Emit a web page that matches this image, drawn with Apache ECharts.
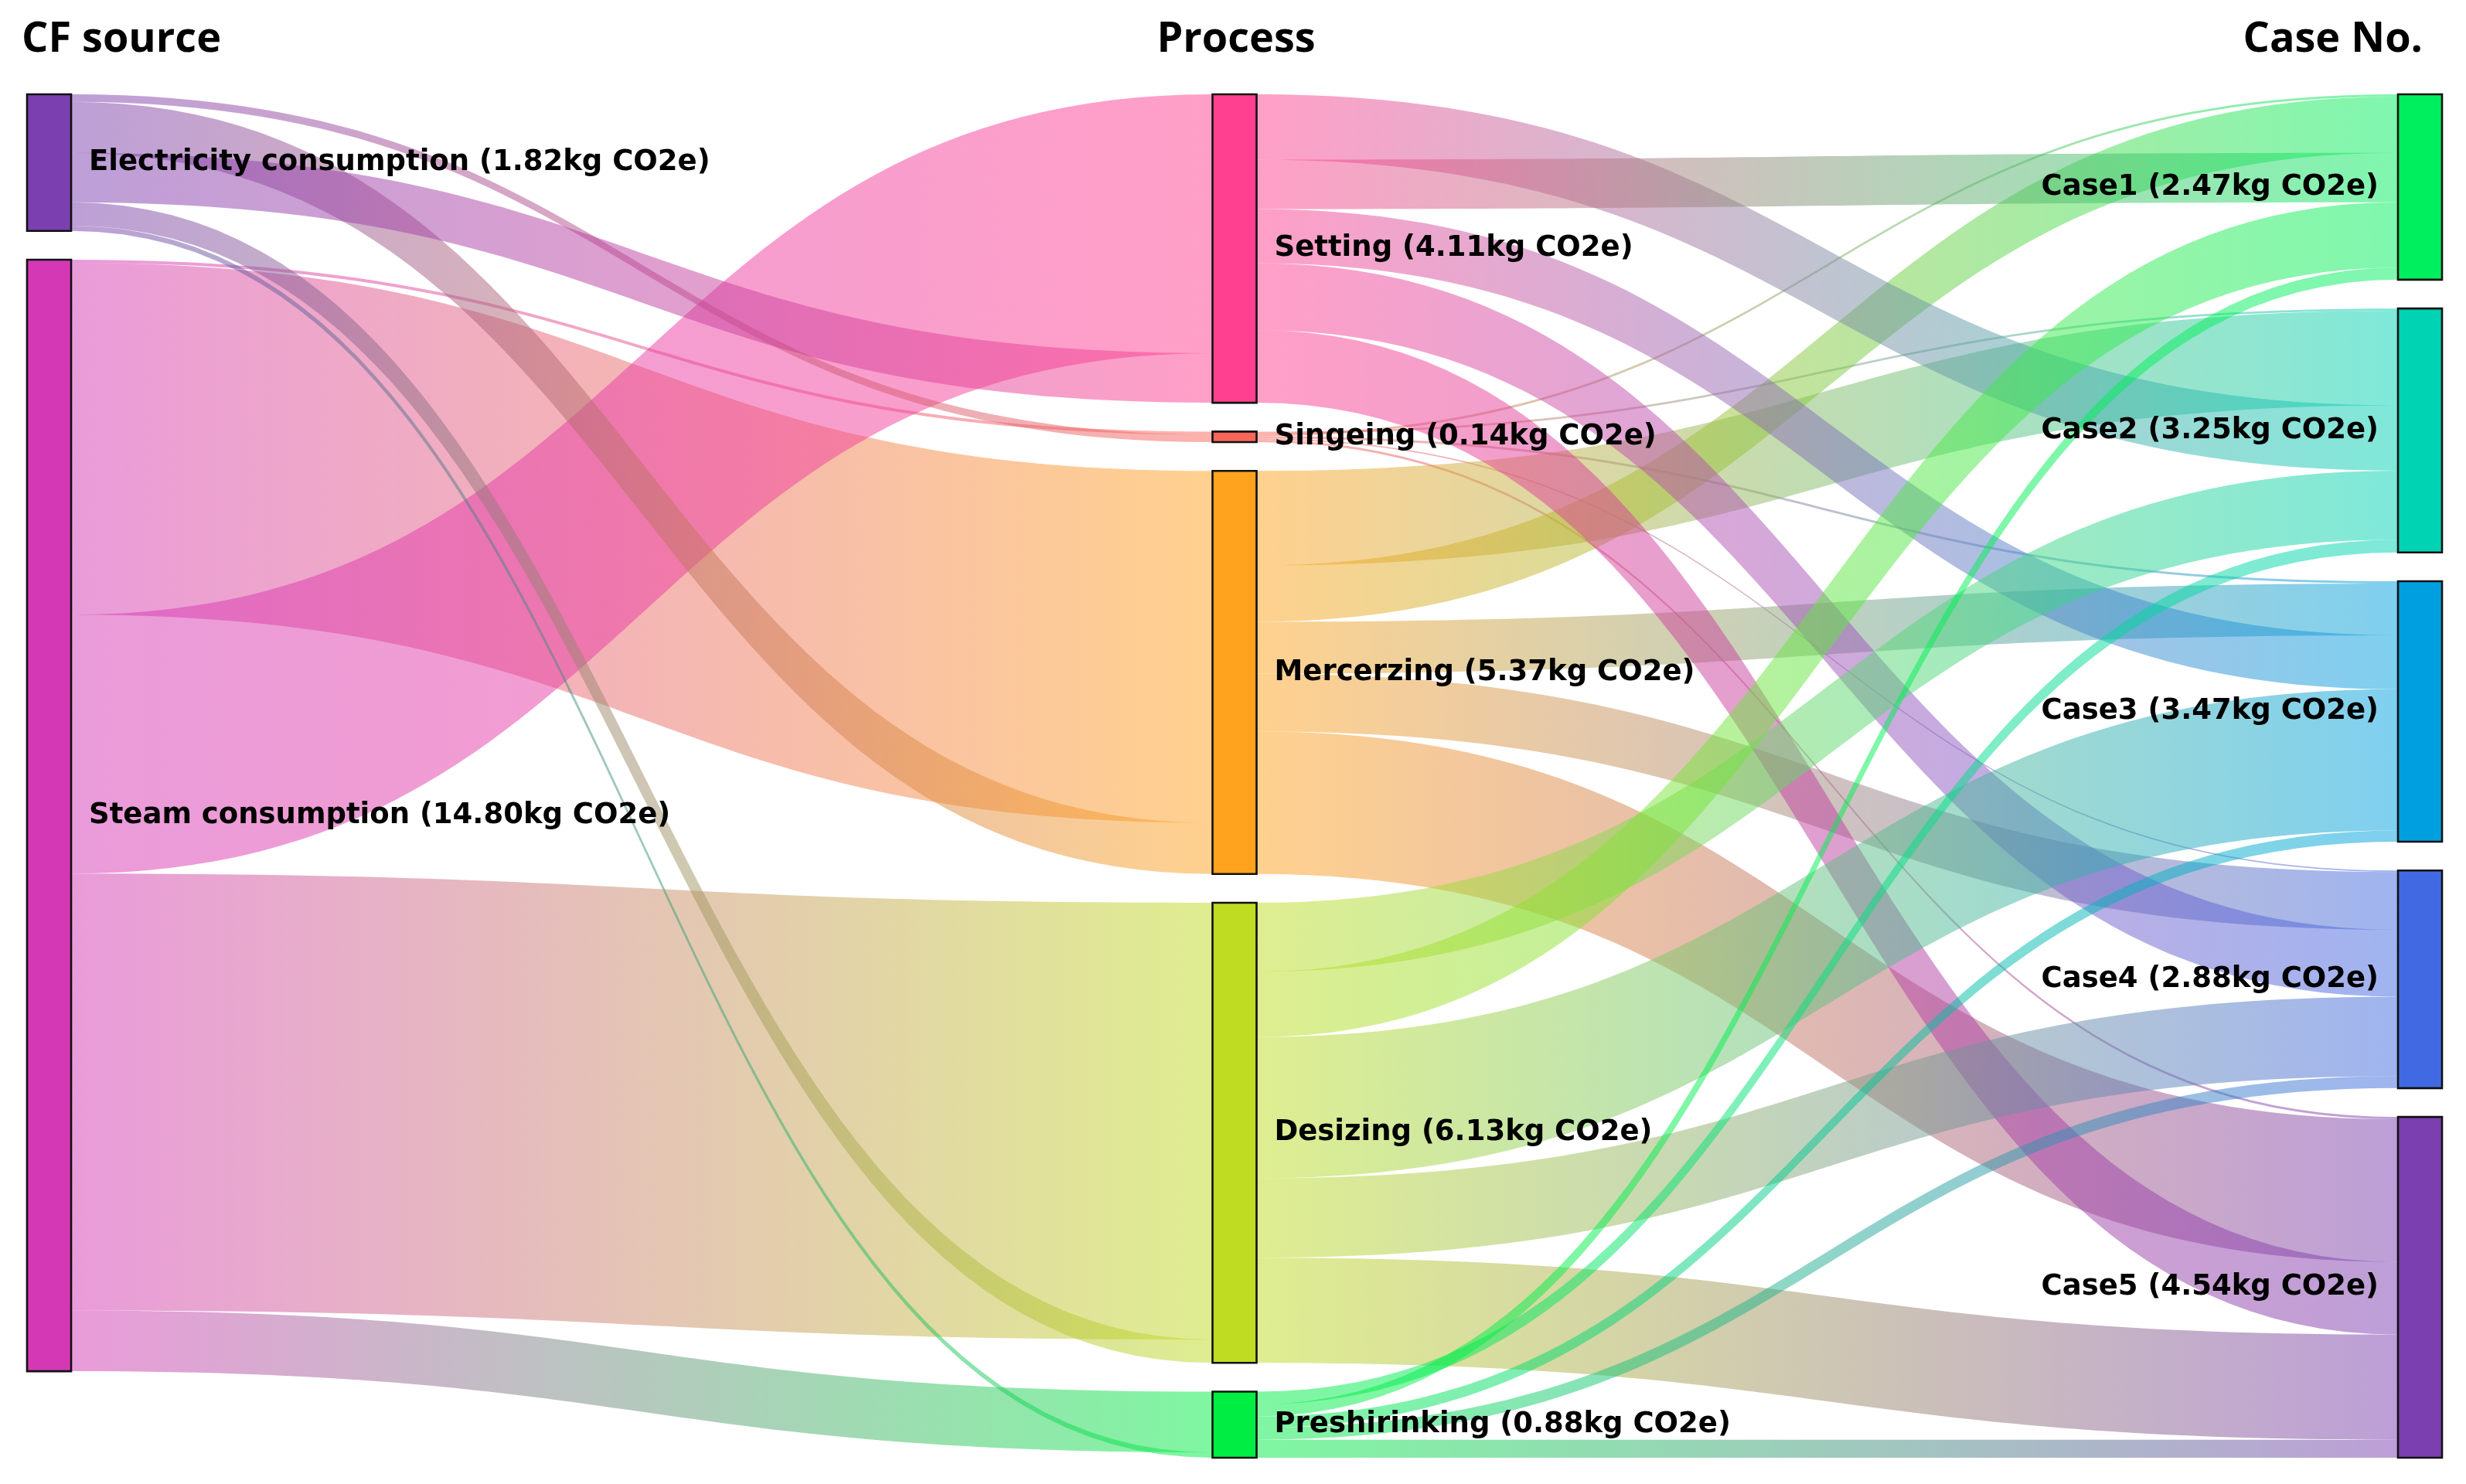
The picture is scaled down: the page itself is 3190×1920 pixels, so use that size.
<!DOCTYPE html>
<html>
<head>
<meta charset="utf-8">
<script src="https://cdn.jsdelivr.net/npm/echarts@6/dist/echarts.min.js"></script>
<style>
html, body { margin: 0; padding: 0; background: #ffffff; }
#chart { width: 3190px; height: 1920px; }
</style>
</head>
<body>
<div id="chart"></div>
<script>
// ---------------- data ----------------
const sourceNodes = ['Electricity consumption', 'Steam consumption'];
const sourceTotals = ['1.82', '14.80'];
const processNodes = ['Setting', 'Singeing', 'Mercerzing', 'Desizing', 'Preshirinking'];
const processTotals = ['4.11', '0.14', '5.37', '6.13', '0.88'];
const caseNodes = ['Case1', 'Case2', 'Case3', 'Case4', 'Case5'];
const caseTotals = ['2.47', '3.25', '3.47', '2.88', '4.54'];
const columnTitles = ['CF source', 'Process', 'Case No.'];

// order in which the flows are listed (this sets how bands stack on each node)
const sourceLinkOrder = ['Steam consumption', 'Electricity consumption'];
const processLinkOrder = ['Singeing', 'Mercerzing', 'Setting', 'Desizing', 'Preshirinking'];
const caseLinkOrder = ['Case2', 'Case1', 'Case3', 'Case4', 'Case5'];

// CF source -> process (kg CO2e), in processLinkOrder
const steamFlows = [0.04, 4.69, 3.45, 5.82, 0.81];
const electricityFlows = [0.10, 0.68, 0.66, 0.31, 0.07];
// process -> case (kg CO2e), in caseLinkOrder
const singeingFlows = [0.03, 0.03, 0.03, 0.02, 0.03];
const mercerzingFlows = [1.26, 0.75, 0.69, 0.77, 1.90];
const settingFlows = [0.87, 0.66, 0.72, 0.89, 0.97];
const desizingFlows = [0.92, 0.87, 1.88, 1.06, 1.40];
const preshirinkingFlows = [0.17, 0.16, 0.15, 0.16, 0.24];

// ---------------- style ----------------
const nodeColors = {
  'Electricity consumption': '#7b3faf',
  'Steam consumption': '#d438b4',
  'Setting': '#ff4090',
  'Singeing': '#f8665a',
  'Mercerzing': '#ffa31f',
  'Desizing': '#bfdc22',
  'Preshirinking': '#00ee44',
  'Case1': '#00ef5e',
  'Case2': '#00d2b4',
  'Case3': '#00a0e0',
  'Case4': '#4169e1',
  'Case5': '#7b3faf'
};
const LINK_ALPHA = 0.5;
const NODE_W = 57;
const GAP_PX = 37.3;
const GRID = { left: 63.5, right: 59.5, top: 122, bottom: 34 };
const PLOT_H = 1920 - GRID.top - GRID.bottom;
const LABEL_FONT = 'bold 37px "DejaVu Sans"';
const HEADER_FONT = 'bold 54px "Open Sans"';

// ---------------- build structures ----------------
const columns = [sourceNodes, processNodes, caseNodes];
const totals = {};
sourceNodes.forEach((n, i) => totals[n] = sourceTotals[i]);
processNodes.forEach((n, i) => totals[n] = processTotals[i]);
caseNodes.forEach((n, i) => totals[n] = caseTotals[i]);

const links = [];
const sourceFlowLists = { 'Steam consumption': steamFlows, 'Electricity consumption': electricityFlows };
sourceLinkOrder.forEach(s => {
  processLinkOrder.forEach((p, j) => links.push({ source: s, target: p, value: sourceFlowLists[s][j] }));
});
const processFlowLists = {
  'Singeing': singeingFlows, 'Mercerzing': mercerzingFlows, 'Setting': settingFlows,
  'Desizing': desizingFlows, 'Preshirinking': preshirinkingFlows
};
processLinkOrder.forEach(p => {
  caseLinkOrder.forEach((c, j) => links.push({ source: p, target: c, value: processFlowLists[p][j] }));
});

const colOf = {};
columns.forEach((col, ci) => col.forEach(n => colOf[n] = ci));
const inSum = {}, outSum = {};
links.forEach(l => {
  outSum[l.source] = (outSum[l.source] || 0) + l.value;
  inSum[l.target] = (inSum[l.target] || 0) + l.value;
});
const nodeValue = {};
Object.keys(colOf).forEach(n => nodeValue[n] = Math.max(inSum[n] || 0, outSum[n] || 0));

// vertical scale: the tallest column fills the plot height incl. gaps
let maxSum = 0, maxN = 0;
columns.forEach(col => {
  const s = col.reduce((a, n) => a + nodeValue[n], 0);
  if (s > maxSum) { maxSum = s; }
  if (col.length > maxN) maxN = col.length;
});
const gapUnits = GAP_PX * maxSum / (PLOT_H - (maxN - 1) * GAP_PX);
let yMax = 0;
const nodeY = {};
columns.forEach(col => {
  let y = 0;
  col.forEach((n, i) => {
    nodeY[n] = y;
    y += nodeValue[n] + (i < col.length - 1 ? gapUnits : 0);
  });
  yMax = Math.max(yMax, y);
});

// stack link ends on each node, following the order of the link list
const outOff = {}, inOff = {};
links.forEach(l => {
  outOff[l.source] = outOff[l.source] || 0;
  inOff[l.target] = inOff[l.target] || 0;
  l.sy = nodeY[l.source] + outOff[l.source];
  l.ty = nodeY[l.target] + inOff[l.target];
  outOff[l.source] += l.value;
  inOff[l.target] += l.value;
});

function withAlpha(hex, a) {
  const r = parseInt(hex.slice(1, 3), 16), g = parseInt(hex.slice(3, 5), 16), b = parseInt(hex.slice(5, 7), 16);
  return 'rgba(' + r + ',' + g + ',' + b + ',' + a + ')';
}

const linkData = links.map(l => [colOf[l.source], l.sy, colOf[l.target], l.ty, l.value]);
const nodeList = [].concat(sourceNodes, processNodes, caseNodes);
const nodeData = nodeList.map(n => [colOf[n], nodeY[n], nodeValue[n]]);

function renderLink(params, api) {
  const l = links[params.dataIndex];
  const c0 = api.value(0), s0 = api.value(1), c1 = api.value(2), t0 = api.value(3), v = api.value(4);
  const pA = api.coord([c0, s0]), pB = api.coord([c0, s0 + v]);
  const qA = api.coord([c1, t0]), qB = api.coord([c1, t0 + v]);
  const x0 = pA[0] + NODE_W / 2, x1 = qA[0] - NODE_W / 2, xm = (x0 + x1) / 2;
  const d = 'M' + x0 + ',' + pA[1] +
    ' C' + xm + ',' + pA[1] + ' ' + xm + ',' + qA[1] + ' ' + x1 + ',' + qA[1] +
    ' L' + x1 + ',' + qB[1] +
    ' C' + xm + ',' + qB[1] + ' ' + xm + ',' + pB[1] + ' ' + x0 + ',' + pB[1] + ' Z';
  return {
    type: 'path',
    shape: { pathData: d },
    style: {
      fill: new echarts.graphic.LinearGradient(0, 0, 1, 0, [
        { offset: 0, color: withAlpha(nodeColors[l.source], LINK_ALPHA) },
        { offset: 1, color: withAlpha(nodeColors[l.target], LINK_ALPHA) }
      ]),
      stroke: null
    }
  };
}

function renderNode(params, api) {
  const name = nodeList[params.dataIndex];
  const c = api.value(0), y0 = api.value(1), v = api.value(2);
  const p0 = api.coord([c, y0]), p1 = api.coord([c, y0 + v]);
  const xl = p0[0] - NODE_W / 2;
  const yc = (p0[1] + p1[1]) / 2;
  const isRight = c === 2;
  return {
    type: 'group',
    children: [
      {
        type: 'rect',
        shape: { x: xl, y: p0[1], width: NODE_W, height: Math.max(p1[1] - p0[1], 1) },
        style: { fill: nodeColors[name], stroke: '#111111', lineWidth: 2.6 }
      },
      {
        type: 'text',
        x: isRight ? xl - 25 : xl + NODE_W + 23,
        y: yc,
        style: {
          text: name + ' (' + totals[name] + 'kg CO2e)',
          font: LABEL_FONT,
          fill: '#000000',
          align: isRight ? 'right' : 'left',
          verticalAlign: 'middle'
        }
      }
    ]
  };
}

const chart = echarts.init(document.getElementById('chart'), null, { renderer: 'canvas' });
chart.setOption({
  backgroundColor: '#ffffff',
  animation: false,
  grid: { left: GRID.left, right: GRID.right, top: GRID.top, bottom: GRID.bottom, containLabel: false },
  xAxis: { type: 'value', min: 0, max: columns.length - 1, show: false },
  yAxis: { type: 'value', min: 0, max: yMax, inverse: true, show: false },
  graphic: [
    { type: 'text', x: 28, y: 52, style: { text: columnTitles[0], font: HEADER_FONT, fill: '#000', align: 'left', verticalAlign: 'middle' } },
    { type: 'text', x: 1599, y: 52, style: { text: columnTitles[1], font: HEADER_FONT, fill: '#000', align: 'center', verticalAlign: 'middle' } },
    { type: 'text', x: 3134, y: 52, style: { text: columnTitles[2], font: HEADER_FONT, fill: '#000', align: 'right', verticalAlign: 'middle' } }
  ],
  series: [
    {
      type: 'custom', name: 'flows', coordinateSystem: 'cartesian2d', clip: false, z: 1,
      renderItem: renderLink, data: linkData, silent: true
    },
    {
      type: 'custom', name: 'nodes', coordinateSystem: 'cartesian2d', clip: false, z: 2,
      renderItem: renderNode, data: nodeData, silent: true
    }
  ]
});
</script>
</body>
</html>
